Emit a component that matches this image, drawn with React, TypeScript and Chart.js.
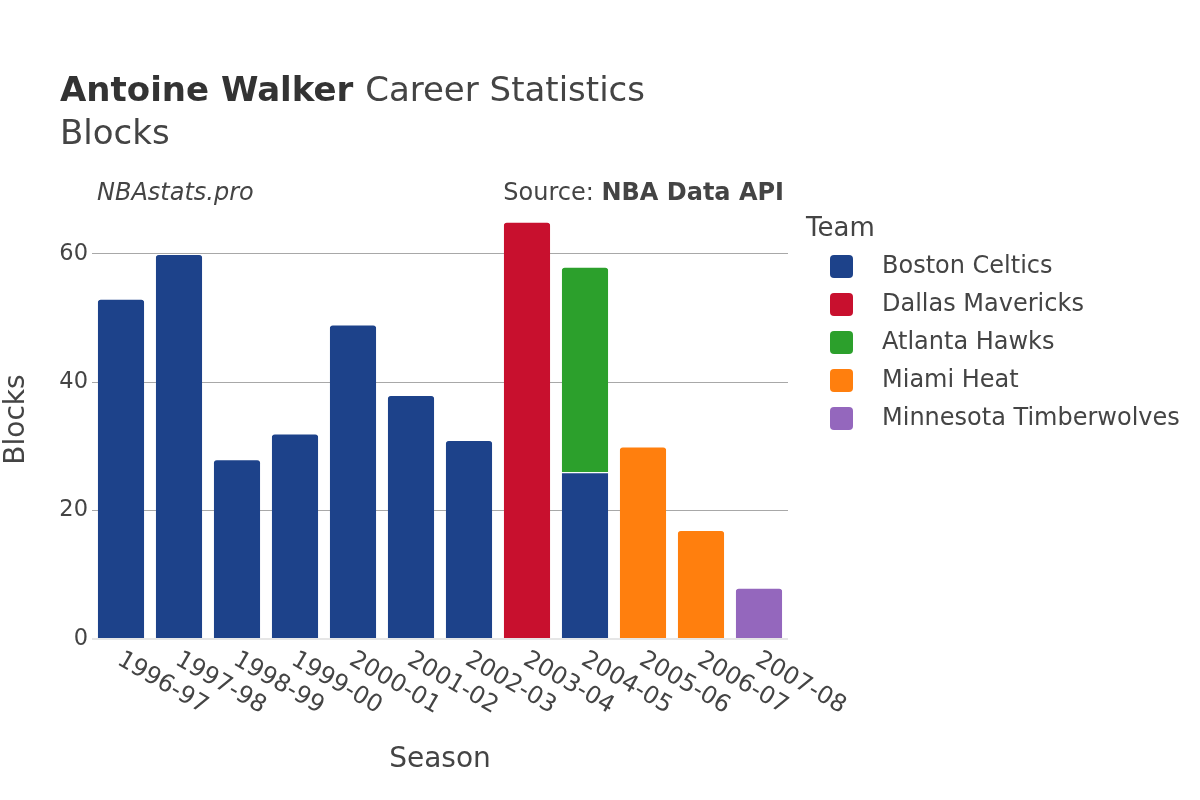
import React, { useEffect, useRef } from "react";
import { Chart, registerables } from "chart.js";

Chart.register(...registerables);

const seasons = ["1996-97", "1997-98", "1998-99", "1999-00", "2000-01", "2001-02", "2002-03", "2003-04", "2004-05", "2005-06", "2006-07", "2007-08"];
const bostonCeltics = [53, 60, 28, 32, 49, 38, 31, null, 26, null, null, null];
const dallasMavericks = [null, null, null, null, null, null, null, 65, null, null, null, null];
const atlantaHawks = [null, null, null, null, null, null, null, null, 32, null, null, null];
const miamiHeat = [null, null, null, null, null, null, null, null, null, 30, 17, null];
const minnesotaTimberwolves = [null, null, null, null, null, null, null, null, null, null, null, 8];
const teamNames = ["Boston Celtics", "Dallas Mavericks", "Atlanta Hawks", "Miami Heat", "Minnesota Timberwolves"];
const teamColors = ["#1D428A", "#C8102E", "#2CA02C", "#FF7F0E", "#9467BD"];
const yTicks = [0, 20, 40, 60];

const FONT = "'DejaVu Sans', sans-serif";
const TEXT = "#444";

const seriesList = [bostonCeltics, dallasMavericks, atlantaHawks, miamiHeat, minnesotaTimberwolves];

function isTop(datasetIndex: number, dataIndex: number) {
  for (let d = datasetIndex + 1; d < seriesList.length; d++) {
    const v = seriesList[d][dataIndex];
    if (v !== null && v !== 0) return false;
  }
  return true;
}

const overlay = {
  id: "overlay",
  afterDraw(chart: any) {
    const ctx = chart.ctx;
    const xs = chart.scales.x;
    const area = chart.chartArea;
    ctx.save();
    ctx.fillStyle = "#333";
    ctx.textBaseline = "alphabetic";
    ctx.textAlign = "left";
    // Title
    ctx.font = `bold 34px ${FONT}`;
    const t1 = "Antoine Walker";
    ctx.fillText(t1, 60, 101);
    const w1 = ctx.measureText(t1 + " ").width;
    ctx.font = `34px ${FONT}`;
    ctx.fillStyle = "#444";
    ctx.fillText("Career Statistics", 60 + w1, 101);
    ctx.fillText("Blocks", 60, 144);
    // Sub notes
    ctx.font = `italic 24px ${FONT}`;
    ctx.fillStyle = TEXT;
    ctx.fillText("NBAstats.pro", 97, 200);
    ctx.font = `bold 24px ${FONT}`;
    const bw = ctx.measureText("NBA Data API").width;
    ctx.fillText("NBA Data API", 784 - bw, 200);
    ctx.font = `24px ${FONT}`;
    ctx.textAlign = "right";
    ctx.fillText("Source: ", 784 - bw, 200);
    // Axis titles
    ctx.textAlign = "center";
    ctx.textBaseline = "middle";
    ctx.font = `28px ${FONT}`;
    ctx.fillText("Season", (area.left + area.right) / 2, 760);
    ctx.save();
    ctx.translate(17, (area.top + area.bottom) / 2);
    ctx.rotate(-Math.PI / 2);
    ctx.fillText("Blocks", 0, 0);
    ctx.restore();
    // X tick labels rotated clockwise
    ctx.font = `24px ${FONT}`;
    ctx.textAlign = "left";
    ctx.textBaseline = "middle";
    seasons.forEach((s, i) => {
      const x = xs.getPixelForValue(i);
      ctx.save();
      ctx.translate(x - 2, 658);
      ctx.rotate(Math.PI / 6);
      ctx.fillText(s, 0, 0);
      ctx.restore();
    });
    // Legend
    ctx.textAlign = "left";
    ctx.textBaseline = "alphabetic";
    ctx.font = `26px ${FONT}`;
    ctx.fillText("Team", 806, 236);
    ctx.font = `24px ${FONT}`;
    ctx.textBaseline = "middle";
    teamNames.forEach((n, i) => {
      const cy = 266 + i * 38;
      ctx.fillStyle = teamColors[i];
      ctx.beginPath();
      (ctx as any).roundRect(830, cy - 11, 23, 23, 4);
      ctx.fill();
      ctx.fillStyle = TEXT;
      ctx.fillText(n, 882, cy + 1);
    });
    ctx.restore();
  },
};

export default function App() {
  const ref = useRef<HTMLCanvasElement | null>(null);
  useEffect(() => {
    if (!ref.current) return;
    const chart = new Chart(ref.current, {
      type: "bar",
      data: {
        labels: seasons,
        datasets: seriesList.map((d, i) => ({
          label: teamNames[i],
          data: d,
          backgroundColor: teamColors[i],
          borderColor: "#ffffff",
          borderWidth: { top: 1, left: 0, right: 0, bottom: 0 },
          borderSkipped: "start",
          borderRadius: (c: any) =>
            isTop(c.datasetIndex, c.dataIndex)
              ? { topLeft: 4, topRight: 4, bottomLeft: 0, bottomRight: 0 }
              : 0,
          barPercentage: 0.8,
          categoryPercentage: 1.0,
        })),
      },
      options: {
        responsive: false,
        animation: false,
        layout: { padding: { left: 0, top: 200, right: 1200 - 788, bottom: 0 } },
        plugins: { legend: { display: false }, tooltip: { enabled: false }, title: { display: false } },
        scales: {
          x: {
            stacked: true,
            grid: { display: false },
            border: { display: false },
            ticks: { display: false },
            afterFit: (s: any) => {
              s.height = 161;
            },
          },
          y: {
            stacked: true,
            min: 0,
            max: 68.4,
            afterBuildTicks: (axis: any) => {
              axis.ticks = yTicks.map((v) => ({ value: v }));
            },
            afterFit: (s: any) => {
              s.width = 92;
            },
            border: { display: false },
            grid: {
              color: (c: any) => (c.tick && c.tick.value === 0 ? "#e6e6e6" : "#a8a8a8"),
              lineWidth: (c: any) => (c.tick && c.tick.value === 0 ? 2 : 1),
              drawTicks: false,
            },
            ticks: {
              color: TEXT,
              font: { family: FONT, size: 22.5 },
              padding: 4,
            },
          },
        },
      },
      plugins: [overlay],
    });
    return () => chart.destroy();
  }, []);
  return (
    <div style={{ position: "fixed", left: 0, top: 0, width: 1200, height: 800, background: "#fff" }}>
      <canvas ref={ref} width={1200} height={800} />
    </div>
  );
}
